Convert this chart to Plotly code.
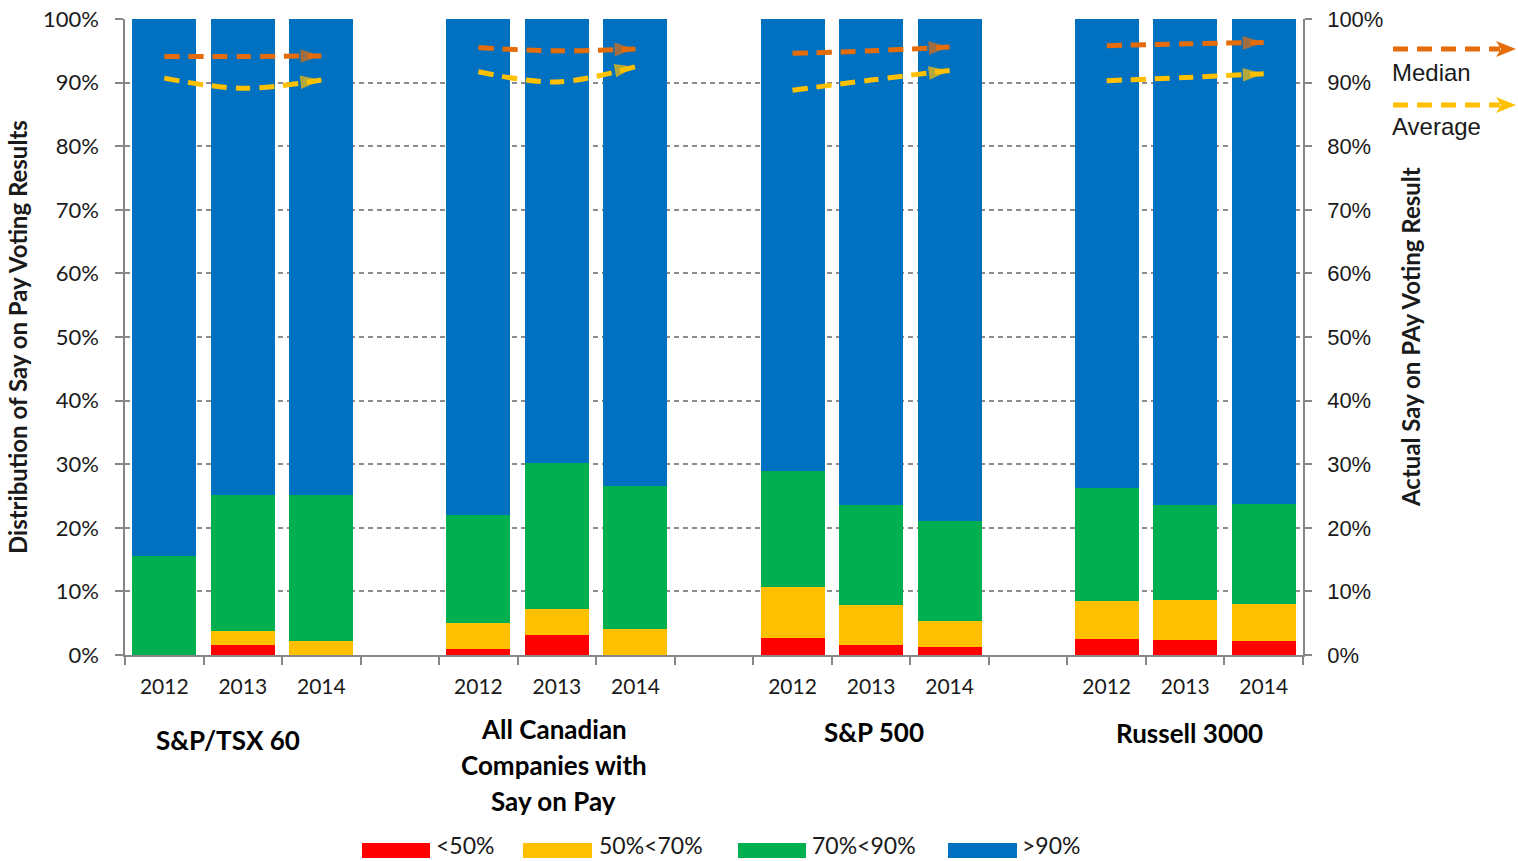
import plotly.graph_objects as go

# ---------------- data ----------------
groups = ["S&P/TSX 60", "All Canadian Companies with Say on Pay", "S&P 500", "Russell 3000"]
years = ["2012", "2013", "2014"]

lt50 = [0.0, 1.5, 0.0, 1.0, 3.2, 0.0, 2.6, 1.6, 1.3, 2.5, 2.4, 2.2]
p50_70 = [0.0, 2.2, 2.2, 4.0, 4.0, 4.1, 8.1, 6.2, 4.0, 6.0, 6.2, 5.8]
p70_90 = [15.5, 21.5, 23.0, 17.0, 23.0, 22.5, 18.2, 15.8, 15.8, 17.8, 15.0, 15.7]
gt90 = [84.5, 74.8, 74.8, 78.0, 69.8, 73.4, 71.1, 76.4, 78.9, 73.7, 76.4, 76.3]

median = [94.1, 94.1, 94.2, 95.5, 95.0, 95.3, 94.6, 95.0, 95.6, 95.8, 96.1, 96.3]
average = [90.7, 89.1, 90.4, 91.7, 90.1, 92.5, 88.8, 90.4, 91.9, 90.3, 90.8, 91.4]

series_names = ["<50%", "50%<70%", "70%<90%", ">90%"]
series_values = [lt50, p50_70, p70_90, gt90]
series_colors = ["#FF0000", "#FFC000", "#00B050", "#0070C0"]

MEDIAN_COLOR = "#E46C0A"
AVERAGE_COLOR = "#FFC000"

# x positions: 3 bars per group + 1 empty slot between groups
xpos = [4 * g + i for g in range(len(groups)) for i in range(len(years))]
ticktext = [y for g in groups for y in years]
n_slots = 4 * len(groups) - 1

# pixel -> paper helpers (plot area: x 125..1303, y 19..655)
L, R, T, B = 125, 1303, 19, 655
def px(x):
    return (x - L) / (R - L)
def py(y):
    return (B - y) / (B - T)

fig = go.Figure()

for name, vals, col in zip(series_names, series_values, series_colors):
    fig.add_trace(go.Bar(
        x=xpos, y=vals, name=name, marker=dict(color=col, line=dict(width=0)),
        showlegend=False, hoverinfo="x+y+name"))

for vals, col, nm in [(median, MEDIAN_COLOR, "Median"), (average, AVERAGE_COLOR, "Average")]:
    for g in range(len(groups)):
        xs = xpos[3 * g:3 * g + 3]
        ys = vals[3 * g:3 * g + 3]
        fig.add_trace(go.Scatter(
            x=xs, y=ys, yaxis="y2", mode="lines+markers", name=nm,
            line=dict(color=col, width=5, dash="15px,9px", shape="spline", smoothing=1),
            marker=dict(symbol="arrow", angleref="previous", size=[0, 0, 22],
                        color=col, line=dict(width=0)),
            showlegend=False))

grid_col = "#8c8c8c"
axis_col = "#868686"
calibri = "Lato, 'Open Sans', sans-serif"
arial = "'Liberation Sans', Arial, sans-serif"

fig.update_layout(
    width=1518, height=861,
    margin=dict(l=L, r=1518 - R, t=T, b=861 - B, autoexpand=False),
    paper_bgcolor="white", plot_bgcolor="white",
    barmode="stack", bargap=0.185,
    xaxis=dict(
        range=[-0.5, n_slots - 0.5], tickmode="array", tickvals=xpos, ticktext=ticktext,
        ticks="", showgrid=False, zeroline=False, showline=True, linecolor=axis_col, linewidth=1.5,
        tickfont=dict(family=calibri, size=21, color="#1a1a1a"), ticklabelstandoff=12,
        automargin=False,
        minor=dict(tickmode="array", tickvals=[i - 0.5 for i in range(n_slots + 1)],
                   ticks="outside", ticklen=8, tickcolor=axis_col, tickwidth=1.5, showgrid=False),
    ),
    yaxis=dict(
        range=[0, 100], dtick=10, ticksuffix="%", showgrid=True, gridcolor=grid_col,
        griddash="5px,4px", gridwidth=1.5, zeroline=False, showline=True, linecolor=axis_col,
        linewidth=1.5, ticks="outside", ticklen=8, tickcolor=axis_col, tickwidth=1.5,
        tickfont=dict(family=calibri, size=22, color="#1a1a1a"), ticklabelstandoff=12,
        automargin=False,
    ),
    yaxis2=dict(
        range=[0, 100], dtick=10, ticksuffix="%", overlaying="y", side="right",
        showgrid=False, zeroline=False, showline=True, linecolor=axis_col, linewidth=1.5,
        ticks="outside", ticklen=7, tickcolor=axis_col, tickwidth=1.5,
        tickfont=dict(family=arial, size=22, color="#1a1a1a"), ticklabelstandoff=11,
        automargin=False,
    ),
)

annotations = []
shapes = []

# axis titles
annotations.append(dict(text="<b>Distribution of Say on Pay Voting Results</b>", xref="paper", yref="paper",
                        x=px(17), y=0.5, textangle=-90, showarrow=False,
                        font=dict(family=calibri, size=24, color="#1a1a1a"),
                        xanchor="center", yanchor="middle"))
annotations.append(dict(text="<b>Actual Say on PAy Voting Result</b>", xref="paper", yref="paper",
                        x=px(1410), y=0.5, textangle=-90, showarrow=False,
                        font=dict(family=calibri, size=24, color="#1a1a1a"),
                        xanchor="center", yanchor="middle"))

# group labels
group_label_lines = [["S&P/TSX 60"], ["All Canadian", "Companies with", "Say on Pay"], ["S&P 500"], ["Russell 3000"]]
group_label_y = [[740], [729, 765, 801], [732], [733]]
group_label_xshift = [-15, -3, 3, 4]
for g, (lines, ys) in enumerate(zip(group_label_lines, group_label_y)):
    for line, yy in zip(lines, ys):
        annotations.append(dict(text="<b>" + line + "</b>", xref="x", yref="paper",
                                x=4 * g + 1, y=py(yy), showarrow=False, xshift=group_label_xshift[g],
                                font=dict(family=calibri, size=26, color="#000000"),
                                xanchor="center", yanchor="middle"))

# bottom legend (bars)
leg_boxes = [(362, 430, 437), (523, 592, 600), (738, 806, 813), (948, 1017, 1023)]
for (x0, x1, tx), name, col in zip(leg_boxes, series_names, series_colors):
    shapes.append(dict(type="rect", xref="paper", yref="paper", x0=px(x0), x1=px(x1),
                       y0=py(858), y1=py(843), fillcolor=col, line=dict(width=0)))
    annotations.append(dict(text=name, xref="paper", yref="paper", x=px(tx), y=py(860),
                            showarrow=False, xanchor="left", yanchor="bottom", xshift=-2,
                            borderpad=0,
                            font=dict(family=calibri, size=23, color="#1a1a1a")))

# right legend (lines with arrows)
for name, col, ly, ty in [("Median", MEDIAN_COLOR, 49, 72), ("Average", AVERAGE_COLOR, 105, 126)]:
    shapes.append(dict(type="line", xref="paper", yref="paper", x0=px(1393), x1=px(1500),
                       y0=py(ly), y1=py(ly), line=dict(color=col, width=5, dash="15px,9px")))
    path = "M {a},{b} L {c},{d} L {e},{f} L {g},{h} Z".format(
        a=px(1496), b=py(ly - 8), c=px(1516), d=py(ly), e=px(1496), f=py(ly + 8),
        g=px(1501), h=py(ly))
    shapes.append(dict(type="path", xref="paper", yref="paper", path=path,
                       fillcolor=col, line=dict(width=0)))
    annotations.append(dict(text=name, xref="paper", yref="paper", x=px(1393), y=py(ty),
                            showarrow=False, xanchor="left", yanchor="middle", xshift=-3,
                            font=dict(family=arial, size=24, color="#1a1a1a")))

fig.update_layout(annotations=annotations, shapes=shapes)

fig.write_html("out.html")
